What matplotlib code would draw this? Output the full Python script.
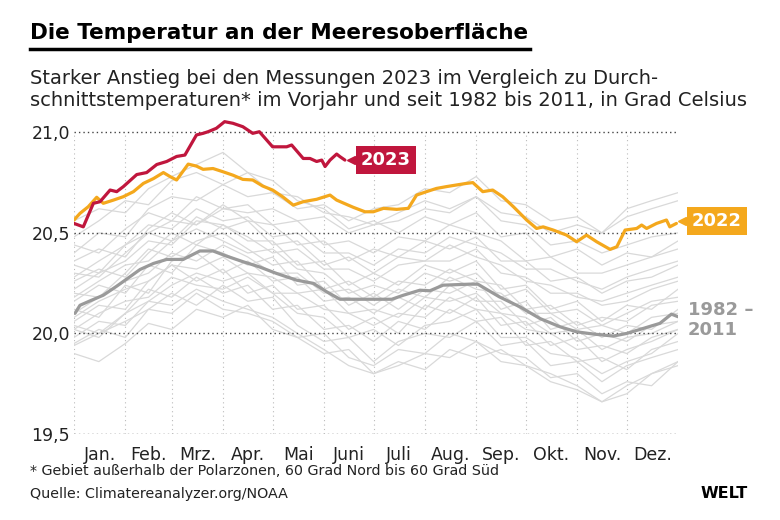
import matplotlib
matplotlib.use("Agg")
from matplotlib import pyplot as plt
from matplotlib.lines import Line2D

plt.rcParams["font.family"] = ["DejaVu Sans"]

################################################################################
# Daten
################################################################################

month_names = ["Jan.", "Feb.", "Mrz.", "Apr.", "Mai", "Juni", "Juli", "Aug.", "Sep.", "Okt.", "Nov.", "Dez."]
month_starts = [0, 31, 59, 90, 120, 151, 181, 212, 243, 273, 304, 334, 365]
y_ticks = [19.5, 20.0, 20.5, 21.0]
y_labels = ["19,5", "20,0", "20,5", "21,0"]

# 2023 (Tag im Jahr, Grad Celsius)
days_2023 = [0, 5.6, 11.7, 15.7, 21.8, 25.8, 29.8, 37.9, 43.9, 50, 56, 62, 67, 74, 78, 81, 86, 91, 96,
             102, 108, 112, 120, 128.5, 131.5, 138.5, 142.6, 146.6, 149.7, 151.7, 154.7, 158.7, 160.7, 163.7]
temp_2023 = [20.547, 20.53, 20.647, 20.655, 20.713, 20.705, 20.73, 20.79, 20.80, 20.84, 20.855, 20.88, 20.887,
             20.987, 20.995, 21.003, 21.02, 21.053, 21.045, 21.028, 20.995, 21.003, 20.928, 20.928, 20.937,
             20.87, 20.87, 20.855, 20.862, 20.83, 20.862, 20.892, 20.879, 20.862]

# 2022
days_2022 = [0, 3.6, 8.6, 13.7, 17.7, 23.8, 29.8, 35.9, 41.9, 48, 54, 58, 62, 69, 74, 78, 84, 90, 96, 102,
             108, 114, 120, 126, 132.5, 138.5, 146.6, 154.7, 158.7, 165.7, 168.8, 175.8, 180.9, 187, 195,
             202, 207, 213, 219, 225, 231, 237, 241, 247, 253, 259, 265.5, 273.5, 279.5, 283.5, 289.6,
             297.6, 303.7, 309.7, 315.8, 323.9, 328, 333, 340, 343, 346, 352, 358, 360, 364]
temp_2022 = [20.564, 20.597, 20.63, 20.677, 20.647, 20.663, 20.68, 20.705, 20.746, 20.77, 20.80, 20.78,
             20.763, 20.842, 20.832, 20.816, 20.82, 20.804, 20.787, 20.766, 20.763, 20.733, 20.713, 20.68,
             20.638, 20.655, 20.667, 20.688, 20.663, 20.638, 20.627, 20.605, 20.605, 20.622, 20.617, 20.622,
             20.688, 20.705, 20.721, 20.73, 20.738, 20.746, 20.75, 20.705, 20.713, 20.68, 20.63, 20.564,
             20.522, 20.53, 20.514, 20.489, 20.456, 20.489, 20.456, 20.418, 20.431, 20.514, 20.522, 20.539,
             20.522, 20.547, 20.564, 20.53, 20.547]

# Mittel 1982 - 2011
days_avg = [0.6, 3.6, 9.7, 17.7, 25.8, 33.8, 39.9, 48, 56, 66, 70, 76, 84, 92, 102, 112, 122.5, 134.5,
            144.6, 152.7, 160.7, 179, 192, 199, 209, 215, 223, 239, 244, 257, 269.5, 281.6, 293.7, 303.7,
            313.8, 325.9, 334, 344, 354, 361, 365]
temp_avg = [20.10, 20.14, 20.162, 20.19, 20.235, 20.282, 20.318, 20.348, 20.368, 20.368, 20.385, 20.41,
            20.41, 20.385, 20.357, 20.331, 20.298, 20.265, 20.249, 20.207, 20.17, 20.17, 20.17, 20.19, 20.215,
            20.212, 20.24, 20.245, 20.245, 20.182, 20.132, 20.074, 20.033, 20.008, 19.997, 19.987, 20.0,
            20.025, 20.05, 20.096, 20.083]

# Einzeljahre (grau), Stützstellen
days_years = [0, 15, 31, 45, 59, 74, 90, 105, 120, 135, 151, 166, 181, 196, 212, 227, 243, 258, 273, 288,
              304, 319, 334, 349, 365]
years = [
    [19.90, 19.86, 19.95, 20.05, 20.02, 20.12, 20.08, 20.14, 20.02, 19.98, 20.00, 19.88, 19.84, 19.92, 19.90, 20.00, 19.96, 19.90, 19.88, 19.78, 19.80, 19.70, 19.76, 19.74, 19.86],
    [19.95, 20.02, 19.98, 20.12, 20.20, 20.14, 20.24, 20.16, 20.18, 20.04, 19.96, 19.98, 19.86, 19.96, 20.00, 19.98, 20.06, 19.94, 19.96, 19.84, 19.86, 19.76, 19.84, 19.88, 19.92],
    [20.02, 19.98, 20.10, 20.22, 20.18, 20.28, 20.20, 20.24, 20.12, 20.14, 20.02, 20.04, 19.96, 20.06, 20.02, 20.12, 20.06, 20.08, 19.94, 19.96, 19.86, 19.88, 19.82, 19.92, 19.96],
    [20.06, 20.14, 20.12, 20.26, 20.34, 20.26, 20.32, 20.20, 20.24, 20.12, 20.14, 20.02, 20.08, 20.00, 20.14, 20.10, 20.18, 20.04, 20.06, 19.94, 19.98, 19.86, 19.92, 19.96, 20.02],
    [20.12, 20.08, 20.24, 20.20, 20.36, 20.40, 20.30, 20.36, 20.26, 20.28, 20.16, 20.18, 20.10, 20.18, 20.12, 20.24, 20.16, 20.16, 20.04, 20.08, 19.96, 20.00, 19.96, 20.04, 20.06],
    [20.16, 20.24, 20.20, 20.34, 20.30, 20.44, 20.40, 20.34, 20.38, 20.24, 20.26, 20.14, 20.20, 20.12, 20.22, 20.20, 20.26, 20.12, 20.16, 20.02, 20.06, 19.98, 20.04, 20.02, 20.12],
    [20.20, 20.18, 20.30, 20.42, 20.38, 20.46, 20.50, 20.42, 20.34, 20.36, 20.22, 20.26, 20.18, 20.26, 20.24, 20.32, 20.26, 20.24, 20.12, 20.14, 20.04, 20.08, 20.06, 20.14, 20.16],
    [20.26, 20.32, 20.28, 20.40, 20.50, 20.44, 20.54, 20.46, 20.46, 20.34, 20.36, 20.24, 20.30, 20.24, 20.34, 20.30, 20.36, 20.22, 20.24, 20.12, 20.16, 20.06, 20.14, 20.12, 20.22],
    [20.30, 20.28, 20.40, 20.50, 20.46, 20.58, 20.52, 20.56, 20.44, 20.46, 20.34, 20.38, 20.30, 20.38, 20.36, 20.44, 20.38, 20.34, 20.26, 20.24, 20.18, 20.16, 20.20, 20.24, 20.28],
    [20.36, 20.42, 20.38, 20.52, 20.60, 20.54, 20.64, 20.56, 20.54, 20.44, 20.46, 20.36, 20.42, 20.38, 20.46, 20.42, 20.48, 20.36, 20.36, 20.26, 20.28, 20.20, 20.26, 20.28, 20.34],
    [20.44, 20.40, 20.52, 20.60, 20.56, 20.68, 20.62, 20.64, 20.54, 20.56, 20.44, 20.46, 20.40, 20.48, 20.46, 20.54, 20.50, 20.46, 20.36, 20.38, 20.30, 20.30, 20.34, 20.38, 20.42],
    [20.56, 20.62, 20.60, 20.72, 20.78, 20.84, 20.90, 20.80, 20.76, 20.66, 20.62, 20.52, 20.56, 20.50, 20.58, 20.54, 20.60, 20.48, 20.50, 20.38, 20.42, 20.34, 20.40, 20.38, 20.46],
    [20.48, 20.56, 20.66, 20.64, 20.76, 20.80, 20.74, 20.80, 20.70, 20.68, 20.60, 20.58, 20.54, 20.60, 20.66, 20.62, 20.68, 20.56, 20.54, 20.44, 20.46, 20.40, 20.44, 20.48, 20.50],
    [20.40, 20.50, 20.48, 20.62, 20.68, 20.66, 20.74, 20.68, 20.70, 20.62, 20.64, 20.56, 20.62, 20.64, 20.72, 20.70, 20.78, 20.66, 20.64, 20.56, 20.58, 20.50, 20.62, 20.66, 20.70],
    [20.28, 20.36, 20.44, 20.50, 20.56, 20.54, 20.62, 20.60, 20.62, 20.56, 20.58, 20.50, 20.54, 20.56, 20.62, 20.60, 20.68, 20.60, 20.58, 20.50, 20.54, 20.50, 20.58, 20.62, 20.66],
    [19.94, 20.00, 20.06, 20.12, 20.10, 20.20, 20.12, 20.10, 20.06, 19.98, 19.90, 19.92, 19.80, 19.86, 19.82, 19.92, 19.88, 19.92, 19.84, 19.80, 19.74, 19.66, 19.70, 19.80, 19.86],
    [20.02, 20.10, 20.16, 20.18, 20.28, 20.24, 20.22, 20.28, 20.20, 20.10, 20.08, 19.98, 20.02, 19.94, 20.04, 20.06, 20.12, 19.98, 19.98, 19.90, 19.88, 19.80, 19.86, 19.90, 20.00],
    [20.10, 20.18, 20.26, 20.30, 20.40, 20.36, 20.44, 20.38, 20.30, 20.30, 20.20, 20.22, 20.14, 20.22, 20.18, 20.28, 20.22, 20.20, 20.10, 20.10, 20.02, 20.04, 20.00, 20.08, 20.10],
    [20.18, 20.26, 20.34, 20.36, 20.46, 20.52, 20.46, 20.40, 20.42, 20.32, 20.30, 20.20, 20.24, 20.20, 20.30, 20.26, 20.30, 20.18, 20.22, 20.10, 20.12, 20.04, 20.10, 20.16, 20.18],
    [20.22, 20.30, 20.36, 20.46, 20.44, 20.56, 20.54, 20.48, 20.40, 20.42, 20.32, 20.32, 20.26, 20.34, 20.36, 20.36, 20.42, 20.30, 20.28, 20.20, 20.20, 20.14, 20.16, 20.22, 20.26],
    [20.34, 20.30, 20.44, 20.54, 20.52, 20.62, 20.56, 20.58, 20.48, 20.50, 20.40, 20.40, 20.34, 20.42, 20.40, 20.48, 20.44, 20.40, 20.32, 20.32, 20.26, 20.22, 20.28, 20.32, 20.36],
    [19.98, 20.06, 20.04, 20.16, 20.24, 20.30, 20.26, 20.30, 20.20, 20.20, 20.12, 20.10, 20.04, 20.10, 20.08, 20.18, 20.12, 20.10, 20.02, 20.00, 19.92, 19.94, 19.90, 19.98, 20.02],
    [20.08, 20.16, 20.22, 20.26, 20.34, 20.32, 20.38, 20.30, 20.28, 20.20, 20.22, 20.10, 20.12, 20.08, 20.18, 20.16, 20.20, 20.10, 20.08, 20.00, 20.02, 19.92, 19.98, 20.00, 20.06],
    [20.04, 20.00, 20.10, 20.16, 20.14, 20.22, 20.16, 20.12, 20.08, 20.00, 19.92, 19.84, 19.80, 19.84, 19.90, 19.88, 19.96, 19.86, 19.84, 19.76, 19.72, 19.66, 19.74, 19.80, 19.84],
]

RED = "#c0163d"
ORANGE = "#f4a81d"
GREY = "#9a9a9a"
LIGHT = "#d9d9d9"

################################################################################
# Grafik
################################################################################

fig = plt.figure(figsize=(7.8, 5.2), dpi=100)
ax = fig.add_axes([0.0949, 0.1654, 0.7744, 0.6188])

for y in years:
    ax.plot(days_years, y, color=LIGHT, lw=0.9, zorder=2)

ax.plot(days_avg, temp_avg, color=GREY, lw=2.3, zorder=4, solid_capstyle="round")
ax.plot(days_2022, temp_2022, color=ORANGE, lw=2.3, zorder=5, solid_capstyle="round")
ax.plot(days_2023, temp_2023, color=RED, lw=2.3, zorder=6, solid_capstyle="round")

# Gitter
for yt in y_ticks:
    ax.plot([0, 365], [yt, yt], color="#444444", lw=1.0, ls=(0, (1, 2.2)), zorder=3)
ax.vlines(month_starts[:-1], 19.5, 21.0, color="#bbbbbb", lw=0.8, linestyles=(0, (1, 3)), zorder=1)

ax.set_xlim(0, 365)
ax.set_ylim(19.5, 21.1)
ax.set_yticks(y_ticks)
ax.set_yticklabels(y_labels, fontsize=12.5, color="#222222")
mids = [(a + b) / 2 for a, b in zip(month_starts[:-1], month_starts[1:])]
ax.set_xticks(mids)
ax.set_xticklabels(month_names, fontsize=12.5, color="#222222")
ax.tick_params(length=0, pad=3)
ax.tick_params(axis="x", pad=9)
for s in ax.spines.values():
    s.set_visible(False)

# Beschriftungen der Linien
ax.text(188.5, 20.862, "2023", color="white", fontsize=13, weight="bold", ha="center", va="center",
        bbox=dict(boxstyle="square,pad=0.3", fc=RED, ec="none"), zorder=7)
ax.plot([167.5], [20.862], marker="<", color=RED, ms=6, zorder=7)
ax.text(388.5, 20.559, "2022", color="white", fontsize=13, weight="bold", ha="center", va="center",
        bbox=dict(boxstyle="square,pad=0.3", fc=ORANGE, ec="none"), zorder=7, clip_on=False)
ax.plot([367.5], [20.559], marker="<", color=ORANGE, ms=6, zorder=7, clip_on=False)
ax.text(371, 20.067, "1982 –\n2011", color=GREY, fontsize=13, weight="bold", ha="left", va="center",
        linespacing=1.1, clip_on=False)

# Titel und Texte
fig.text(30 / 780, 1 - 33 / 520, "Die Temperatur an der Meeresoberfläche", fontsize=15.5, weight="bold",
         va="center", ha="left")
fig.add_artist(Line2D([30 / 780, 530 / 780], [1 - 49 / 520] * 2, color="black", lw=2.5))
fig.text(30 / 780, 1 - 78 / 520, "Starker Anstieg bei den Messungen 2023 im Vergleich zu Durch-",
         fontsize=14, va="center", ha="left", color="#222222")
fig.text(30 / 780, 1 - 101 / 520, "schnittstemperaturen* im Vorjahr und seit 1982 bis 2011, in Grad Celsius",
         fontsize=14, va="center", ha="left", color="#222222")
fig.text(30 / 780, 1 - 471 / 520, "* Gebiet außerhalb der Polarzonen, 60 Grad Nord bis 60 Grad Süd",
         fontsize=10.3, va="center", ha="left", color="#222222")
fig.text(30 / 780, 1 - 494 / 520, "Quelle: Climatereanalyzer.org/NOAA",
         fontsize=10.3, va="center", ha="left", color="#222222")
fig.text(748 / 780, 1 - 494 / 520, "WELT", fontsize=11.5, weight="heavy", va="center", ha="right")

plt.savefig("out.png", dpi=100)
